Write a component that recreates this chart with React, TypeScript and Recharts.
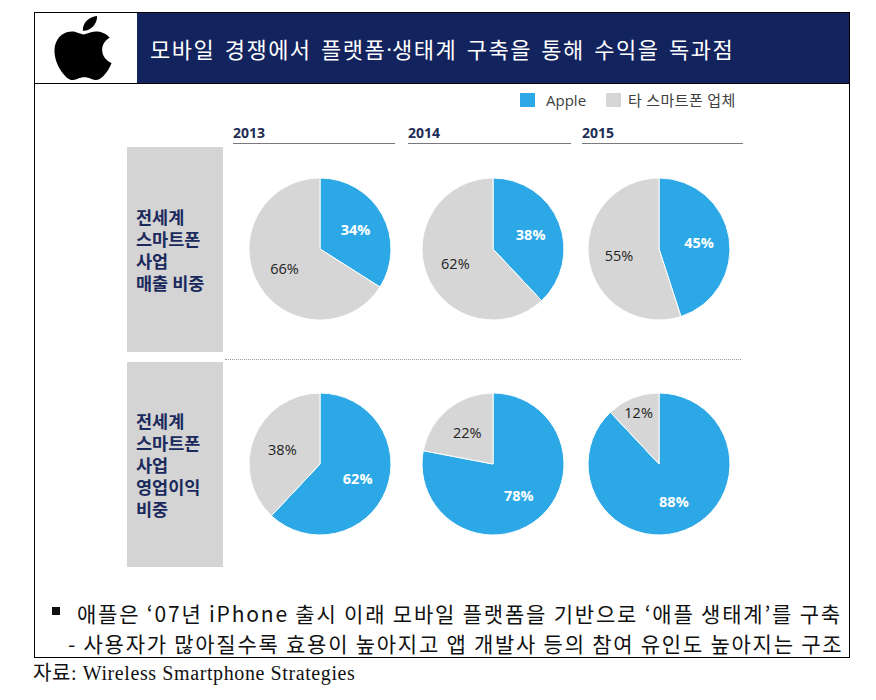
import React from 'react';
import { PieChart, Pie, Cell } from 'recharts';

const years = ['2013', '2014', '2015'];
const seriesNames = ['Apple', '타 스마트폰 업체'];
const revenueApple = [34, 38, 45];
const revenueOthers = [66, 62, 55];
const profitApple = [62, 78, 88];
const profitOthers = [38, 22, 12];
const rowLabels = [
  ['전세계', '스마트폰', '사업', '매출 비중'],
  ['전세계', '스마트폰', '사업', '영업이익', '비중'],
];
const titleParts = ['모바일 경쟁에서 플랫폼', '·', '생태계 구축을 통해 수익을 독과점'];
const bulletLine1 = '애플은 ‘07년 iPhone 출시 이래 모바일 플랫폼을 기반으로 ‘애플 생태계’를 구축';
const bulletLine2 = '- 사용자가 많아질수록 효용이 높아지고 앱 개발사 등의 참여 유인도 높아지는 구조';
const sourceText = '자료: Wireless Smartphone Strategies';

const BLUE = '#2CA8E6';
const GRAY = '#D6D6D6';
const NAVY = '#13235E';
const KR = "'Noto Sans CJK KR', 'Noto Sans', sans-serif";
const RADIAN = Math.PI / 180;

const renderLabel = (props: any) => {
  const { cx, cy, midAngle, outerRadius, value, index } = props;
  const r = value < 20 ? outerRadius * 0.78 : outerRadius * 0.57;
  const x = cx + r * Math.cos(-midAngle * RADIAN);
  const y = cy + r * Math.sin(-midAngle * RADIAN);
  const isApple = index === 0;
  return (
    <text
      x={x}
      y={y}
      textAnchor="middle"
      dominantBaseline="central"
      fill={isApple ? '#ffffff' : '#222222'}
      fontWeight={isApple ? 700 : 400}
      fontSize={14.5}
      fontFamily="'Open Sans', 'Noto Sans', sans-serif"
    >
      {`${value}%`}
    </text>
  );
};

const centersX = [320, 493, 659];
const centersY = [249, 464];

function SmallPie({ apple, other, left, top }: { apple: number; other: number; left: number; top: number }) {
  const data = [
    { name: seriesNames[0], value: apple },
    { name: seriesNames[1], value: other },
  ];
  return (
    <div style={{ position: 'absolute', left, top, width: 160, height: 160 }}>
      <PieChart width={160} height={160}>
        <Pie
          data={data}
          dataKey="value"
          nameKey="name"
          cx="50%"
          cy="50%"
          outerRadius={71}
          startAngle={90}
          endAngle={-270}
          stroke="#ffffff"
          strokeWidth={1}
          label={renderLabel}
          labelLine={false}
          isAnimationActive={false}
        >
          <Cell fill={BLUE} />
          <Cell fill={GRAY} />
        </Pie>
      </PieChart>
    </div>
  );
}

const AppleLogo = () => (
  <svg width={70} height={64} viewBox="0 0 24 24" preserveAspectRatio="none" style={{ position: 'absolute', left: 48, top: 16 }}>
    <path
      fill="#000"
      d="M12.152 6.896c-.948 0-2.415-1.078-3.96-1.04-2.04.027-3.91 1.183-4.961 3.014-2.117 3.675-.546 9.103 1.519 12.09 1.013 1.454 2.208 3.09 3.792 3.039 1.52-.065 2.09-.987 3.935-.987 1.831 0 2.35.987 3.96.948 1.637-.026 2.676-1.48 3.676-2.948 1.156-1.688 1.636-3.325 1.662-3.415-.039-.013-3.182-1.221-3.22-4.857-.026-3.04 2.48-4.494 2.597-4.559-1.429-2.09-3.623-2.324-4.39-2.376-2-.156-3.675 1.09-4.61 1.09zM15.53 3.83c.843-1.012 1.4-2.427 1.245-3.83-1.207.052-2.662.805-3.532 1.818-.78.896-1.454 2.338-1.273 3.714 1.338.104 2.715-.688 3.559-1.701"
    />
  </svg>
);

export default function App() {
  const yearLines = [
    [233, 395],
    [408, 571],
    [582, 743],
  ];
  const boxTops = [147, 362];
  return (
    <div style={{ position: 'absolute', left: 0, top: 0, width: 876, height: 700, background: '#fff', overflow: 'hidden' }}>
      {/* outer frame */}
      <div style={{ position: 'absolute', left: 34, top: 12, width: 816, height: 646, border: '1.5px solid #000', boxSizing: 'border-box' }} />
      {/* header */}
      <div style={{ position: 'absolute', left: 34, top: 83, width: 816, height: 0, borderTop: '1.5px solid #000' }} />
      <div style={{ position: 'absolute', left: 137, top: 13, width: 712, height: 70, background: NAVY }} />
      <AppleLogo />
      <div style={{ position: 'absolute', left: 150, top: 13, height: 70, display: 'flex', alignItems: 'center', color: '#fff', fontFamily: KR, fontSize: 22, letterSpacing: 1.5, wordSpacing: 3, whiteSpace: 'pre' }}>
        <span>{titleParts[0]}</span>
        <span style={{ fontFamily: "'Open Sans', sans-serif", letterSpacing: 0 }}>{titleParts[1]}</span>
        <span>{titleParts[2]}</span>
      </div>
      {/* legend */}
      <div style={{ position: 'absolute', left: 520, top: 93, width: 15, height: 14, background: BLUE }} />
      <div style={{ position: 'absolute', left: 546, top: 90, fontFamily: "'Open Sans', sans-serif", fontSize: 15, color: '#404040', lineHeight: '20px' }}>{seriesNames[0]}</div>
      <div style={{ position: 'absolute', left: 606, top: 93, width: 15, height: 14, background: GRAY }} />
      <div style={{ position: 'absolute', left: 628, top: 90, fontFamily: KR, fontSize: 15, color: '#404040', lineHeight: '20px', whiteSpace: 'nowrap', letterSpacing: 0.5 }}>{seriesNames[1]}</div>
      {/* year headers */}
      {years.map((y, i) => (
        <React.Fragment key={y}>
          <div style={{ position: 'absolute', left: yearLines[i][0], top: 124, fontFamily: "'Open Sans', sans-serif", fontWeight: 700, fontSize: 14, color: '#1F2D55', lineHeight: '18px' }}>{y}</div>
          <div style={{ position: 'absolute', left: yearLines[i][0], top: 143, width: yearLines[i][1] - yearLines[i][0], height: 0, borderTop: '1px solid #7a7a7a' }} />
        </React.Fragment>
      ))}
      {/* row label boxes */}
      {rowLabels.map((lines, r) => (
        <div key={r} style={{ position: 'absolute', left: 127, top: boxTops[r], width: 96, height: 205, background: '#D4D4D4', display: 'flex', flexDirection: 'column', justifyContent: 'center', paddingLeft: 9, boxSizing: 'border-box' }}>
          {lines.map((t) => (
            <div key={t} style={{ fontFamily: KR, fontWeight: 700, fontSize: 17.5, lineHeight: '22px', height: 22, color: '#1B2A5C', whiteSpace: 'nowrap' }}>{t}</div>
          ))}
        </div>
      ))}
      {/* separator */}
      <div style={{ position: 'absolute', left: 225, top: 359, width: 516, height: 0, borderTop: '1px dotted #999' }} />
      {/* pies */}
      {years.map((y, i) => (
        <SmallPie key={'r' + y} apple={revenueApple[i]} other={revenueOthers[i]} left={centersX[i] - 80} top={centersY[0] - 80} />
      ))}
      {years.map((y, i) => (
        <SmallPie key={'p' + y} apple={profitApple[i]} other={profitOthers[i]} left={centersX[i] - 80} top={centersY[1] - 80} />
      ))}
      {/* bullet text */}
      <div style={{ position: 'absolute', left: 52, top: 607, width: 8, height: 8, background: '#111' }} />
      <div style={{ position: 'absolute', left: 77, top: 598, fontFamily: KR, fontSize: 21, lineHeight: '30px', color: '#111', whiteSpace: 'pre', letterSpacing: 1.8 }}>
        {bulletLine1}
      </div>
      <div style={{ position: 'absolute', left: 68, top: 628, fontFamily: KR, fontSize: 21, lineHeight: '30px', color: '#111', whiteSpace: 'pre', letterSpacing: 1.75 }}>
        {bulletLine2}
      </div>
      {/* source */}
      <div style={{ position: 'absolute', left: 33, top: 661, fontFamily: "'Liberation Serif', 'Noto Sans CJK KR', serif", fontSize: 20, lineHeight: '24px', color: '#111', whiteSpace: 'nowrap', letterSpacing: 0.6 }}>
        {sourceText}
      </div>
    </div>
  );
}
